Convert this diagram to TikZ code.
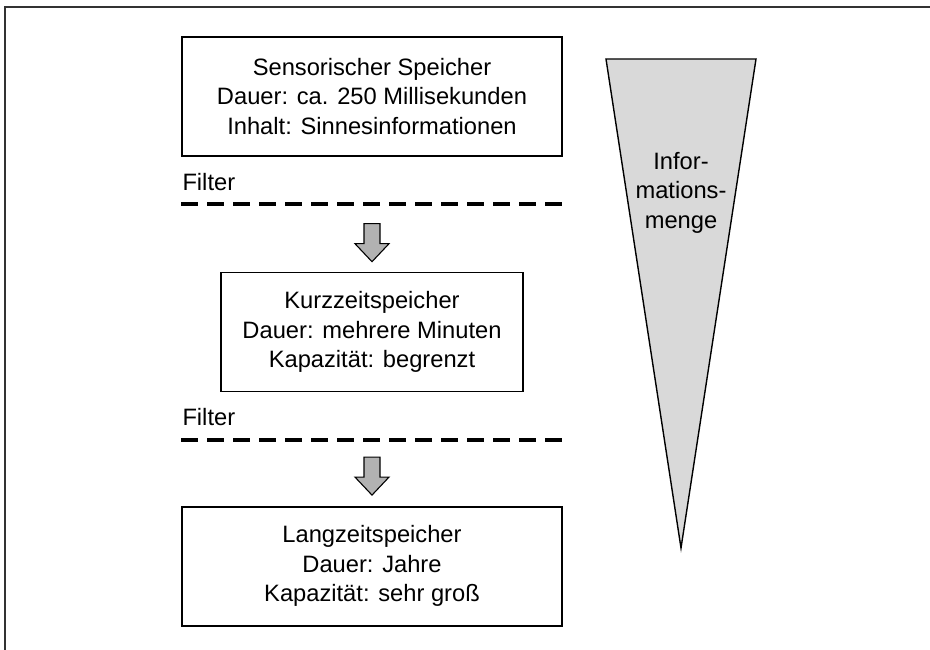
\documentclass[tikz,border=0pt]{standalone}
\usepackage{fontspec}
\setmainfont{Liberation Sans}
\usetikzlibrary{positioning,calc}

\begin{document}
\begin{tikzpicture}[
  x=1pt,y=-1pt,
  font=\fontsize{23.7}{29.5}\selectfont,
  frm/.style={draw=black!80,line width=2pt},
  box/.style={draw,line width=1.4pt,align=center,minimum height=119pt,inner sep=0pt},
  lbl/.style={anchor=base west,inner sep=0pt},
  filt/.style={line width=4pt,dash pattern=on 17pt off 9pt},
  barr/.style={draw,line width=1.1pt,fill=black!30,line join=miter},
  wedge/.style={draw,line width=1.4pt,fill=black!15,line join=miter},
]
\useasboundingbox (0,0) rectangle (930,650);
% outer frame
\draw[frm] (5,650) -- (5,7) -- (930,7);
% stores
\node[box,minimum width=380pt] (sens) at (372,96.5)
  {Sensorischer Speicher\\Dauer: ca. 250 Millisekunden\\Inhalt: Sinnesinformationen};
\node[box,minimum width=302pt,below=115pt of sens] (kurz)
  {Kurzzeitspeicher\\Dauer: mehrere Minuten\\Kapazität: begrenzt};
\node[box,minimum width=380pt,below=114pt of kurz] (lang)
  {Langzeitspeicher\\Dauer: Jahre\\Kapazität: sehr groß};
% filters
\coordinate (f1l) at ($(sens.south west)+(0,47)$);
\coordinate (f1r) at ($(sens.south east)+(0,47)$);
\coordinate (f2l) at ($(lang.north west)+(0,-66)$);
\coordinate (f2r) at ($(lang.north east)+(0,-66)$);
\node[lbl] (fl1) at ($(f1l)+(1,-13)$) {Filter};
\node[lbl] (fl2) at ($(f2l)+(1,-15)$) {Filter};
\draw[filt] (f1l) -- (f1r);
\draw[filt] (f2l) -- (f2r);
% block arrows
\coordinate (a1) at ($(f1l)!0.5!(f1r)+(0,20)$);
\coordinate (a2) at ($(f2l)!0.5!(f2r)+(0,17)$);
\foreach \a in {a1,a2}
  \draw[barr] ($(\a)+(-8,0)$) -- ++(16,0) -- ++(0,20) -- ++(9,0)
    -- ++(-17,18) -- ++(-17,-18) -- ++(9,0) -- cycle;
% amount of information
\coordinate (wl) at (606,59);
\coordinate (wr) at (756,59);
\coordinate (wt) at (681,548);
\draw[wedge] (wl) -- (wr) -- (wt) -- cycle;
\node[align=center,inner sep=0pt] (menge) at (681,192.5) {Infor-\\mations-\\menge};
\end{tikzpicture}
\end{document}
